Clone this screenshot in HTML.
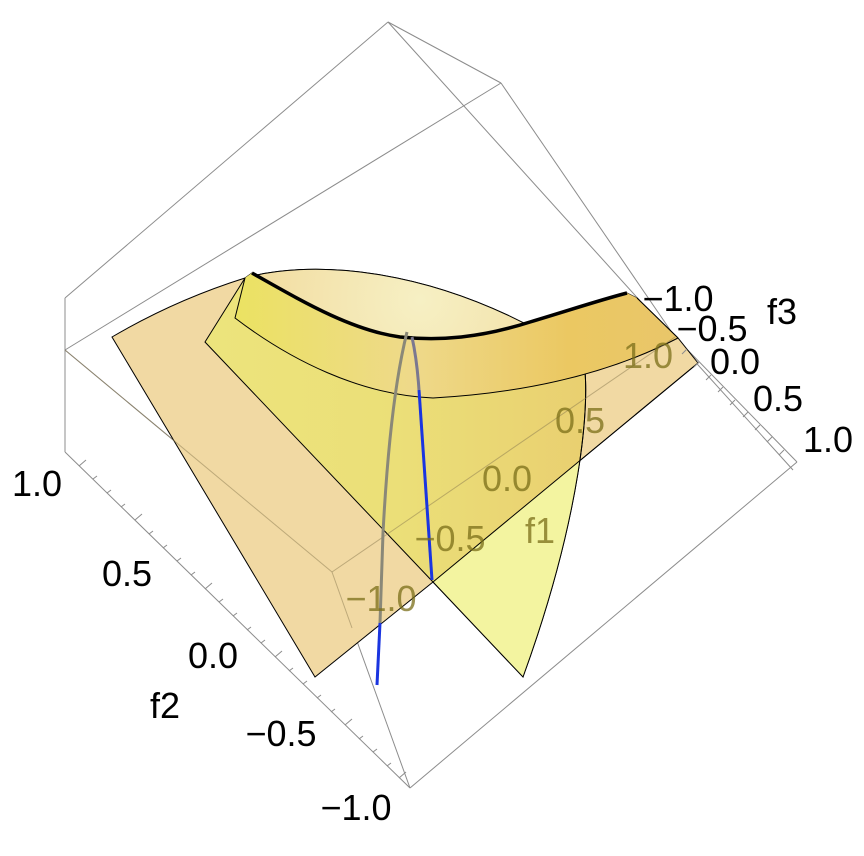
<!DOCTYPE html>
<html><head><meta charset="utf-8"><style>
html,body{margin:0;padding:0;background:#fff;}
svg{display:block;font-family:"Liberation Sans",sans-serif;}
</style></head><body>
<svg width="864" height="856" viewBox="0 0 864 856" xmlns="http://www.w3.org/2000/svg">
<defs>
<linearGradient id="yg" x1="205" y1="0" x2="590" y2="0" gradientUnits="userSpaceOnUse">
<stop offset="0" stop-color="#ece47c"/><stop offset="0.5" stop-color="#ebdf78"/><stop offset="1" stop-color="#e9cf70"/>
</linearGradient>
<linearGradient id="bg" x1="235" y1="0" x2="680" y2="0" gradientUnits="userSpaceOnUse">
<stop offset="0" stop-color="#ebe262"/><stop offset="0.4" stop-color="#eed98a"/><stop offset="0.75" stop-color="#ebc862"/><stop offset="1" stop-color="#e9c66a"/>
</linearGradient>
<radialGradient id="dg" cx="420" cy="300" r="170" gradientUnits="userSpaceOnUse">
<stop offset="0" stop-color="#f6f0c4"/><stop offset="1" stop-color="#f2dca0"/>
</radialGradient>
<clipPath id="below"><polygon points="433,582 698,363 760,363 760,720 433,720"/></clipPath>
</defs>
<g stroke="#8c8c8c" stroke-width="1" fill="none">
<line x1="388" y1="22" x2="501" y2="83"/>
<line x1="388" y1="22" x2="65" y2="298"/>
<line x1="388" y1="22" x2="793" y2="470"/>
<line x1="501" y1="83" x2="65" y2="350"/>
<line x1="501" y1="83" x2="675" y2="337"/>
<line x1="65" y1="298" x2="65" y2="452"/>
<line x1="65" y1="452" x2="410" y2="788"/>
<line x1="410" y1="788" x2="797" y2="462"/>
<line x1="332" y1="572" x2="410" y2="788"/>
<line x1="65" y1="350" x2="332" y2="572"/>
<line x1="332" y1="572" x2="675" y2="337"/>
<line x1="675" y1="337" x2="797" y2="462"/>
</g>
<!-- tan plane -->
<path d="M112,337 Q175,300 245,278 L252,273 C300,300 350,330 400,337 C440,341 480,338 530,322 C570,310 600,300 627,293 L637,298 L678,338 L698,363 L433,582 L315,677 Z" fill="#f1d9a3" stroke="#000" stroke-width="1"/>
<!-- yellow surface -->
<path d="M205,342 L245,278 C300,262 430,258 583,357 C592,400 580,520 523,677 L433,582 Z" fill="url(#yg)" stroke="#000" stroke-width="1"/>
<path d="M205,342 L245,278 C300,262 430,258 583,357 C592,400 580,520 523,677 L433,582 Z" fill="#f3f4a0" clip-path="url(#below)"/>
<path d="M583,357 C592,400 580,520 523,677 L433,582" fill="none" stroke="#000" stroke-width="1"/>
<line x1="433" y1="582" x2="698" y2="363" stroke="#000" stroke-width="1"/>
<!-- dome top pale -->
<path d="M245,278 C300,262 430,258 583,357 L600,303 C560,318 500,335 467,338 C430,340 400,337 350,325 C310,305 280,290 252,273 Z" fill="url(#dg)"/>
<path d="M245,278 C300,262 430,258 583,357" fill="none" stroke="#000" stroke-width="1"/>
<!-- band -->
<path d="M252,273 C300,300 350,330 400,337 C440,341 480,338 530,322 C570,310 600,300 627,293 L637,298 L678,338 C620,368 540,392 433,398 C360,395 290,360 235,318 L245,278 Z" fill="url(#bg)"/>
<path d="M678,338 C620,368 540,392 433,398 C360,395 290,360 235,318 L245,278" fill="none" stroke="#000" stroke-width="1"/>
<path d="M252,273 C300,300 350,330 400,337 C440,341 480,338 530,322 C570,310 600,300 627,293" fill="none" stroke="#000" stroke-width="3.5"/>
<line x1="637" y1="298" x2="678" y2="338" stroke="#000" stroke-width="1"/>
<g stroke="#8a7a50" stroke-opacity="0.5" stroke-width="1">
<line x1="65" y1="350" x2="332" y2="572"/>
<line x1="332" y1="572" x2="675" y2="337"/>
<line x1="332" y1="572" x2="352" y2="628"/>
</g>
<path d="M407,332 Q390,400 383,533 L380,623" fill="none" stroke="#8a8878" stroke-width="3"/>
<path d="M380,623 L377,685" fill="none" stroke="#1a35e0" stroke-width="3"/>
<path d="M412,337 Q417,360 419,390" fill="none" stroke="#7b7890" stroke-width="3"/>
<path d="M419,390 L432,580" fill="none" stroke="#1a35e0" stroke-width="3"/>
<g stroke="#8c8c8c" stroke-width="1">
<line x1="79" y1="466" x2="86" y2="460"/><line x1="93" y1="479" x2="97" y2="476"/><line x1="107" y1="493" x2="111" y2="490"/><line x1="121" y1="507" x2="125" y2="504"/><line x1="135" y1="520" x2="142" y2="514"/>
<line x1="149" y1="534" x2="153" y2="531"/><line x1="163" y1="548" x2="167" y2="545"/><line x1="177" y1="561" x2="181" y2="558"/><line x1="191" y1="575" x2="195" y2="572"/><line x1="205" y1="589" x2="212" y2="583"/>
<line x1="219" y1="602" x2="223" y2="599"/><line x1="233" y1="616" x2="237" y2="613"/><line x1="247" y1="630" x2="251" y2="627"/><line x1="261" y1="643" x2="265" y2="640"/><line x1="275" y1="657" x2="282" y2="651"/>
<line x1="289" y1="671" x2="293" y2="668"/><line x1="303" y1="684" x2="307" y2="681"/><line x1="317" y1="698" x2="321" y2="695"/><line x1="331" y1="712" x2="335" y2="709"/><line x1="345" y1="725" x2="352" y2="719"/>
<line x1="359" y1="739" x2="363" y2="736"/><line x1="373" y1="752" x2="377" y2="749"/><line x1="387" y1="766" x2="391" y2="763"/><line x1="399" y1="778" x2="406" y2="772"/>
<line x1="687" y1="349" x2="682" y2="354"/><line x1="699" y1="362" x2="694" y2="367"/><line x1="711" y1="375" x2="706" y2="380"/><line x1="723" y1="387" x2="718" y2="392"/><line x1="735" y1="400" x2="730" y2="405"/>
<line x1="748" y1="412" x2="743" y2="417"/><line x1="760" y1="425" x2="755" y2="430"/><line x1="772" y1="437" x2="767" y2="442"/><line x1="784" y1="450" x2="779" y2="455"/>
</g>
<g fill="#7a6e18" fill-opacity="0.75" font-size="36" text-anchor="middle">
<text x="648" y="368">1.0</text>
<text x="580" y="433">0.5</text>
<text x="507" y="491">0.0</text>
<text x="450" y="551">−0.5</text>
<text x="381" y="611">−1.0</text>
<text x="540" y="543">f1</text>
</g>
<g fill="#000" font-size="36" text-anchor="middle">
<text x="37" y="496">1.0</text>
<text x="127" y="586">0.5</text>
<text x="213" y="668">0.0</text>
<text x="165" y="718">f2</text>
<text x="281" y="746">−0.5</text>
<text x="356" y="820">−1.0</text>
<text x="678" y="311">−1.0</text>
<text x="712" y="341">−0.5</text>
<text x="735" y="374">0.0</text>
<text x="778" y="411">0.5</text>
<text x="828" y="452">1.0</text>
<text x="782" y="324">f3</text>
</g>
</svg>
</body></html>
